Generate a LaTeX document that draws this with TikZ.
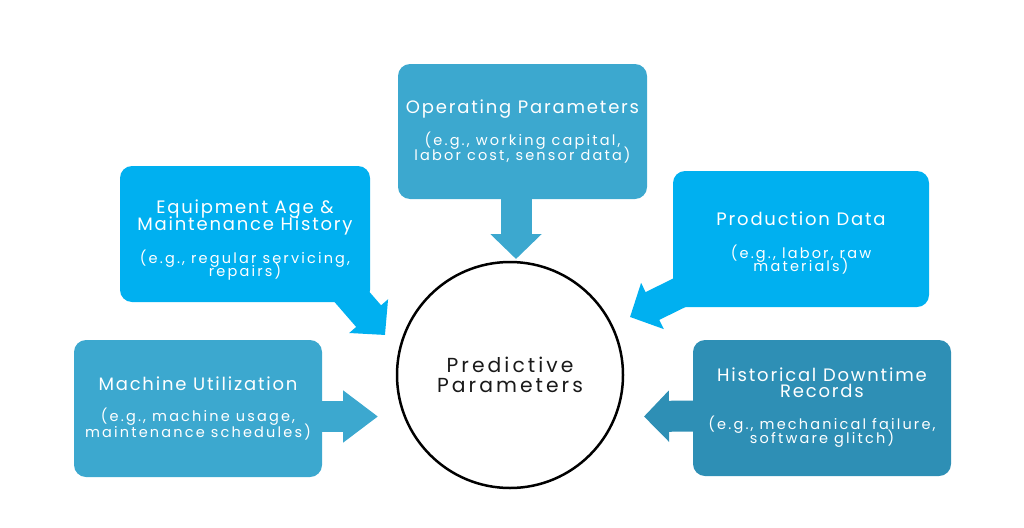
\documentclass[tikz,border=0pt]{standalone}
\usepackage{fontspec}
\setmainfont{Poppins}[LetterSpace=15]
\newfontfamily\ttlfam{Poppins}[LetterSpace=10]
\usetikzlibrary{arrows.meta,calc}
\definecolor{cmid}{HTML}{3CA8CF}
\definecolor{cbright}{HTML}{00B0F0}
\definecolor{cdark}{HTML}{2E8FB5}
\newcommand{\ttlf}{\ttlfam\fontsize{18}{15}\selectfont}
\newcommand{\subf}{\fontsize{14.5}{15}\selectfont}
\newcommand{\nolsk}{\lineskiplimit=-30pt\relax\lineskip=0pt\relax}
\begin{document}
\begin{tikzpicture}[x=1pt,y=-1pt,
  box/.style={rounded corners=12pt, minimum width=#1, text=white, align=center, inner sep=0pt,
    font=\fontsize{14.5}{15}\selectfont\nolsk},
  box/.default=250pt,
  arr/.style={line width=31pt, -{Triangle[length=25pt,width=50pt]}},
  arrlong/.style={line width=31pt, -{Triangle[length=35pt,width=50pt]}}]
\useasboundingbox (0,0) rectangle (1024,527);
% central circle
\node[circle, draw=black, line width=2.5pt, minimum size=226pt, inner sep=0pt, text=black!90, align=center,
  font=\fontsize{20.3}{20}\selectfont\nolsk] (pp) at (510,375) {Predictive\\Parameters};
% boxes
\node[box=249pt, minimum height=135pt, fill=cmid] (op) at (522.5,131.5)
  {\ttlf Operating Parameters\\[17pt]\subf (e.g., working capital,\\\subf labor cost, sensor data)};
\node[box=250pt, minimum height=136pt, fill=cbright] (eq) at (245,234)
  {\ttlf\rule{0pt}{25.5pt}Equipment Age \&\\[2pt]\ttlf Maintenance History\\[18pt]\subf (e.g., regular servicing,\\[-2pt]\subf repairs)};
\node[box=256pt, minimum height=136pt, fill=cbright] (pd) at (801,239)
  {\ttlf\rule{0pt}{21.5pt}Production Data\\[18pt]\subf (e.g., labor, raw\\[-2pt]\subf materials)};
\node[box=248pt, minimum height=137pt, fill=cmid] (mu) at (198,408.5)
  {\ttlf Machine Utilization\\[16pt]\subf (e.g., machine usage,\\[1pt]\subf maintenance schedules)};
\node[box=258pt, minimum height=136pt, fill=cdark] (hd) at (822,408)
  {\ttlf Historical Downtime\\[1pt]\ttlf Records\\[17pt]\subf (e.g., mechanical failure,\\[-1pt]\subf software glitch)};
% arrow tips
\coordinate (t1) at (516,259);
\coordinate (t2) at (385,335);
\coordinate (t3) at (630,317);
\coordinate (t4) at (378,416.5);
\coordinate (t5) at (644,416.5);
% connectors
\draw[arr, cmid] ([xshift=-6.5pt,yshift=4pt]op.south) -- (t1);
\draw[arr, cbright, line width=33pt] ($(t2)+(-46,-53)$) -- (t2);
\draw[arr, cbright] ($(t3)+(56,-27.5)$) -- (t3);
\draw[arrlong, cmid] ([xshift=-5pt,yshift=-8pt]mu.east) -- (t4);
\draw[arr, cdark] ([xshift=5pt,yshift=-8pt]hd.west) -- (t5);
\end{tikzpicture}
\end{document}
